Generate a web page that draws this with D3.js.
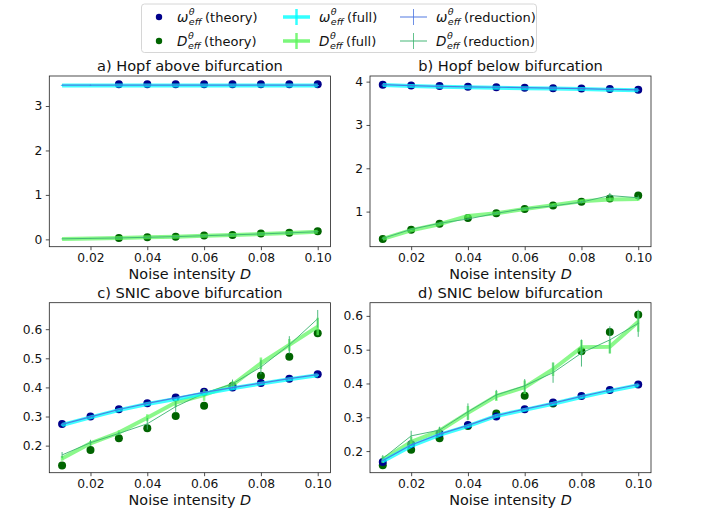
<!DOCTYPE html>
<html><head><meta charset="utf-8">
<script src="https://cdn.jsdelivr.net/npm/d3@7"></script>
<style>
body{margin:0;background:#fff;}
text{font-family:"DejaVu Sans",sans-serif;fill:#111;}
</style></head>
<body>
<svg id="chart" width="704" height="515"></svg>
<script>
// ---------------- DATA ----------------
const noise = [0.01,0.02,0.03,0.04,0.05,0.06,0.07,0.08,0.09,0.10];
const xTicks = [0.02,0.04,0.06,0.08,0.10];

const titles = ["a) Hopf above bifurcation","b) Hopf below bifurcation","c) SNIC above bifurcation","d) SNIC below bifurcation"];

// panel a
const aOmegaTheory = [null,null,3.49,3.49,3.49,3.49,3.49,3.49,3.49,3.49];
const aOmegaFull   = [3.46,3.46,3.46,3.46,3.46,3.46,3.46,3.46,3.46,3.46];
const aOmegaRed    = [3.47,3.47,3.47,3.47,3.47,3.47,3.47,3.47,3.47,3.47];
const aDTheory     = [null,null,0.03,0.045,0.06,0.085,0.10,0.13,0.15,0.18];
const aDFull       = [0.01,0.02,0.03,0.045,0.06,0.08,0.10,0.12,0.145,0.17];
const aDRed        = [0.012,0.022,0.032,0.047,0.062,0.082,0.102,0.122,0.147,0.172];
const aOmegaFullErr= [0.01,0.01,0.01,0.01,0.01,0.01,0.01,0.01,0.01,0.01];
const aOmegaRedErr = [0.01,0.01,0.01,0.01,0.01,0.01,0.01,0.01,0.01,0.01];
const aDFullErr    = [0.005,0.005,0.005,0.005,0.005,0.005,0.005,0.005,0.005,0.005];
const aDRedErr     = [0.005,0.005,0.005,0.005,0.005,0.005,0.005,0.005,0.005,0.005];
const aYTicks = [0,1,2,3];

// panel b
const bOmegaTheory = [3.93,3.91,3.90,3.88,3.87,3.86,3.85,3.84,3.83,3.81];
const bOmegaFull   = [3.92,3.90,3.88,3.87,3.86,3.85,3.84,3.83,3.81,3.80];
const bOmegaRed    = [3.93,3.91,3.89,3.88,3.87,3.86,3.85,3.84,3.82,3.81];
const bDTheory     = [0.37,0.58,0.72,0.85,0.96,1.06,1.14,1.23,1.30,1.37];
const bDFull       = [0.37,0.57,0.71,0.90,0.96,1.06,1.15,1.24,1.28,1.29];
const bDRed        = [0.38,0.59,0.73,0.83,0.96,1.07,1.13,1.22,1.37,1.32];
const bOmegaFullErr= [0.01,0.01,0.01,0.01,0.01,0.01,0.01,0.01,0.01,0.01];
const bOmegaRedErr = [0.01,0.01,0.01,0.01,0.01,0.01,0.01,0.01,0.01,0.01];
const bDFullErr    = [0.01,0.01,0.01,0.02,0.02,0.02,0.02,0.03,0.03,0.04];
const bDRedErr     = [0.01,0.01,0.01,0.02,0.02,0.02,0.02,0.03,0.06,0.05];
const bYTicks = [1,2,3,4];

// panel c
const cOmegaTheory = [0.274,0.300,0.325,0.346,0.365,0.385,0.400,0.415,0.430,0.445];
const cOmegaFull   = [0.271,0.297,0.322,0.343,0.360,0.379,0.397,0.413,0.428,0.442];
const cOmegaRed    = [0.273,0.299,0.324,0.345,0.364,0.383,0.399,0.415,0.430,0.444];
const cDTheory     = [0.132,0.185,0.225,0.260,0.302,0.337,0.405,0.440,0.505,0.586];
const cDFull       = [0.156,0.208,0.245,0.296,0.348,0.374,0.409,0.483,0.546,0.609];
const cDRed        = [0.168,0.210,0.242,0.275,0.334,0.380,0.412,0.470,0.546,0.636];
const cOmegaFullErr= [0.003,0.003,0.003,0.003,0.003,0.003,0.003,0.003,0.003,0.003];
const cOmegaRedErr = [0.003,0.003,0.003,0.003,0.003,0.003,0.003,0.003,0.003,0.003];
const cDFullErr    = [0.008,0.008,0.008,0.012,0.015,0.020,0.012,0.020,0.020,0.030];
const cDRedErr     = [0.010,0.010,0.005,0.020,0.020,0.010,0.015,0.025,0.030,0.030];
const cYTicks = [0.2,0.3,0.4,0.5,0.6];

// panel d
const dOmegaTheory = [0.168,0.220,0.252,0.277,0.302,0.324,0.344,0.363,0.381,0.397];
const dOmegaFull   = [0.170,0.215,0.248,0.274,0.304,0.322,0.340,0.360,0.378,0.395];
const dOmegaRed    = [0.172,0.218,0.250,0.276,0.305,0.324,0.342,0.362,0.380,0.397];
const dDTheory     = [0.158,0.204,0.238,0.274,0.311,0.364,0.341,0.495,0.552,0.603];
const dDFull       = [0.175,0.227,0.260,0.313,0.363,0.389,0.442,0.507,0.509,0.583];
const dDRed        = [0.178,0.245,0.262,0.316,0.366,0.393,0.432,0.490,0.529,0.578];
const dOmegaFullErr= [0.003,0.003,0.003,0.003,0.003,0.003,0.003,0.003,0.003,0.003];
const dOmegaRedErr = [0.003,0.003,0.003,0.003,0.003,0.003,0.003,0.003,0.003,0.003];
const dDFullErr    = [0.010,0.015,0.010,0.020,0.015,0.020,0.020,0.022,0.020,0.030];
const dDRedErr     = [0.010,0.015,0.010,0.025,0.015,0.020,0.030,0.040,0.040,0.040];
const dYTicks = [0.2,0.3,0.4,0.5,0.6];

// ---------------- STYLE / LAYOUT ----------------
const COL = {
  omTheory:"#00008b", dTheory:"#006400",
  omFull:"#00ffff", dFull:"#5af55a",
  omRed:"#4a74e0", dRed:"#3cb371"
};
const xDomain = [0.0055,0.1045];
const panels = [
  {title:titles[0], box:[49.3,76,330.5,246.7], y:[-0.165,3.675], yt:aYTicks, fmt:d3.format("d"),
   omT:aOmegaTheory, omF:aOmegaFull, omR:aOmegaRed, dT:aDTheory, dF:aDFull, dR:aDRed,
   omFE:aOmegaFullErr, omRE:aOmegaRedErr, dFE:aDFullErr, dRE:aDRedErr},
  {title:titles[1], box:[370,76,651,246.7], y:[0.19,4.13], yt:bYTicks, fmt:d3.format("d"),
   omT:bOmegaTheory, omF:bOmegaFull, omR:bOmegaRed, dT:bDTheory, dF:bDFull, dR:bDRed,
   omFE:bOmegaFullErr, omRE:bOmegaRedErr, dFE:bDFullErr, dRE:bDRedErr},
  {title:titles[2], box:[49.3,302.7,330.5,472.7], y:[0.107,0.691], yt:cYTicks, fmt:d3.format(".1f"),
   omT:cOmegaTheory, omF:cOmegaFull, omR:cOmegaRed, dT:cDTheory, dF:cDFull, dR:cDRed,
   omFE:cOmegaFullErr, omRE:cOmegaRedErr, dFE:cDFullErr, dRE:cDRedErr},
  {title:titles[3], box:[370,302.7,651,472.7], y:[0.136,0.639], yt:dYTicks, fmt:d3.format(".1f"),
   omT:dOmegaTheory, omF:dOmegaFull, omR:dOmegaRed, dT:dDTheory, dF:dDFull, dR:dDRed,
   omFE:dOmegaFullErr, omRE:dOmegaRedErr, dFE:dDFullErr, dRE:dDRedErr}
];

const svg = d3.select("#chart");

panels.forEach(p => {
  const [x0,y0,x1,y1] = p.box;
  const x = d3.scaleLinear().domain(xDomain).range([x0,x1]);
  const y = d3.scaleLinear().domain(p.y).range([y1,y0]);
  const g = svg.append("g");

  // axes
  const xa = g.append("g").attr("transform",`translate(0,${y1})`)
    .call(d3.axisBottom(x).tickValues(xTicks).tickFormat(d3.format(".2f")).tickSize(3.5).tickPadding(3.5));
  const ya = g.append("g").attr("transform",`translate(${x0},0)`)
    .call(d3.axisLeft(y).tickValues(p.yt).tickFormat(p.fmt).tickSize(3.5).tickPadding(3.5));
  [xa,ya].forEach(a=>{
    a.select(".domain").remove();
    a.selectAll("text").style("font-size","12.3px").attr("fill","#111");
    a.selectAll("line").attr("stroke","#222").attr("stroke-width",0.8);
  });

  const clipId = "clip"+Math.round(x0)+"_"+Math.round(y0);
  g.append("clipPath").attr("id",clipId).append("rect")
    .attr("x",x0).attr("y",y0).attr("width",x1-x0).attr("height",y1-y0);
  const plot = g.append("g").attr("clip-path",`url(#${clipId})`);

  const line = d3.line().defined(d=>d[1]!=null).x(d=>x(d[0])).y(d=>y(d[1]));
  function series(vals, errs, color, width, opacity, ew){
    const pts = noise.map((n,i)=>[n,vals[i],errs[i]]);
    plot.append("path").datum(pts).attr("d",line).attr("fill","none")
      .attr("stroke",color).attr("stroke-width",width).attr("stroke-opacity",opacity)
      .attr("stroke-linejoin","round");
    plot.append("g").selectAll("line").data(pts).join("line")
      .attr("x1",d=>x(d[0])).attr("x2",d=>x(d[0]))
      .attr("y1",d=>y(d[1]-d[2])).attr("y2",d=>y(d[1]+d[2]))
      .attr("stroke",color).attr("stroke-width",ew).attr("stroke-opacity",opacity);
  }
  function dots(vals, color){
    plot.append("g").selectAll("circle")
      .data(noise.map((n,i)=>[n,vals[i]]).filter(d=>d[1]!=null)).join("circle")
      .attr("cx",d=>x(d[0])).attr("cy",d=>y(d[1])).attr("r",4)
      .attr("fill",color);
  }
  dots(p.dT, COL.dTheory);
  dots(p.omT, COL.omTheory);
  series(p.dF, p.dFE, COL.dFull, 4, 0.7, 2.5);
  series(p.dR, p.dRE, COL.dRed, 1, 0.9, 1);
  series(p.omF, p.omFE, COL.omFull, 4, 0.75, 2.5);
  series(p.omR, p.omRE, COL.omRed, 1.2, 0.9, 1);

  // frame
  g.append("rect").attr("x",x0).attr("y",y0).attr("width",x1-x0).attr("height",y1-y0)
    .attr("fill","none").attr("stroke","#222").attr("stroke-width",0.8);

  // title
  g.append("text").attr("x",(x0+x1)/2).attr("y",y0-5).attr("text-anchor","middle")
    .style("font-size","14.6px").text(p.title);
  // x label
  const xl = g.append("text").attr("x",(x0+x1)/2).attr("y",y1+32).attr("text-anchor","middle")
    .style("font-size","14.4px");
  xl.append("tspan").text("Noise intensity ");
  xl.append("tspan").style("font-style","italic").text("D");
});

// ---------------- LEGEND ----------------
const legendItems = [
  {sym:"ω", label:"(theory)", kind:"dot", color:COL.omTheory, col:0, row:0},
  {sym:"D", label:"(theory)", kind:"dot", color:COL.dTheory, col:0, row:1},
  {sym:"ω", label:"(full)", kind:"full", color:COL.omFull, col:1, row:0},
  {sym:"D", label:"(full)", kind:"full", color:COL.dFull, col:1, row:1},
  {sym:"ω", label:"(reduction)", kind:"red", color:COL.omRed, col:2, row:0},
  {sym:"D", label:"(reduction)", kind:"red", color:COL.dRed, col:2, row:1}
];
const lg = svg.append("g");
lg.append("rect").attr("x",141.5).attr("y",4).attr("width",395).attr("height",48.5)
  .attr("rx",3).attr("fill","#fff").attr("stroke","#ccc").attr("stroke-width",0.8);
const colX = [159, 283, 400];
const textX = [177, 319, 436];
const rowY = [17, 41];
legendItems.forEach(it=>{
  const cy = rowY[it.row];
  if(it.kind==="dot"){
    lg.append("circle").attr("cx",colX[it.col]).attr("cy",cy).attr("r",3.2).attr("fill",it.color);
  } else {
    const w = it.kind==="full"?3.5:1.2, op = 0.8;
    const xs = colX[it.col], xe = xs+27;
    lg.append("line").attr("x1",xs).attr("x2",xe).attr("y1",cy).attr("y2",cy)
      .attr("stroke",it.color).attr("stroke-width",w).attr("stroke-opacity",op);
    lg.append("line").attr("x1",(xs+xe)/2).attr("x2",(xs+xe)/2).attr("y1",cy-8).attr("y2",cy+8)
      .attr("stroke",it.color).attr("stroke-width",it.kind==="full"?2.5:1).attr("stroke-opacity",op);
  }
  const tx = textX[it.col];
  const t1 = lg.append("text").attr("x",tx).attr("y",cy+5).style("font-size","13.5px")
    .style("font-style","italic").text(it.sym);
  const w1 = t1.node().getComputedTextLength();
  lg.append("text").attr("x",tx+w1+0.5).attr("y",cy-2).style("font-size","9.5px")
    .style("font-style","italic").text("θ");
  const t3 = lg.append("text").attr("x",tx+w1+0.5).attr("y",cy+8).style("font-size","9.5px")
    .style("font-style","italic").text("eff");
  const w3 = t3.node().getComputedTextLength();
  lg.append("text").attr("x",tx+w1+w3+4).attr("y",cy+5).style("font-size","13px").text(it.label);
});
</script>
</body></html>
